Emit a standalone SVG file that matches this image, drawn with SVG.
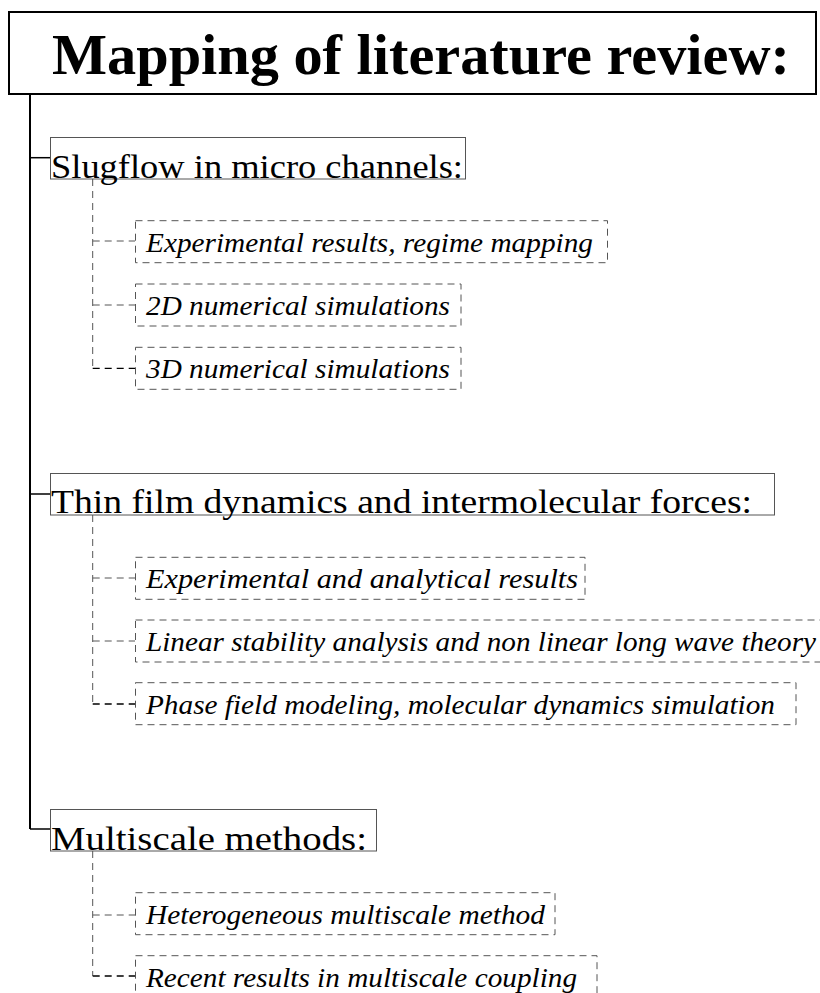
<svg xmlns="http://www.w3.org/2000/svg" width="820" height="993" viewBox="0 0 820 993">
<style>
text{font-family:'Liberation Serif','Times New Roman',Times,serif}
.title{font-weight:bold;font-size:57px;fill:#000}
.head{font-size:34px;fill:#000}
.item{font-style:italic;font-size:27px;fill:#000}
.hbox{fill:none;stroke:#555;stroke-width:1}
.ibox{fill:none;stroke:#555;stroke-width:1;stroke-dasharray:7,5}
.solid{fill:none;stroke:#000;stroke-width:2}
.thin{fill:none;stroke:#000;stroke-width:1.5}
.dash{fill:none;stroke:#555;stroke-width:1;stroke-dasharray:7,5}
.dashk{fill:none;stroke:#000;stroke-width:1.3;stroke-dasharray:7,5}
</style>
<rect x="0" y="0" width="820" height="993" fill="#fff"/>
<g id="connectors">
<path class="solid" d="M30,95 V829"/>
<path class="thin" d="M30,157.7 H50"/>
<path class="thin" d="M30,494 H50"/>
<path class="thin" d="M30,829 H50"/>
<path class="dash" d="M92.7,179 V368.3"/>
<path class="dash" d="M92.7,241 H135"/>
<path class="dash" d="M92.7,305 H135"/>
<path class="dashk" d="M92.7,368.3 H135"/>
<path class="dash" d="M92.7,515 V704"/>
<path class="dash" d="M92.7,578 H135"/>
<path class="dash" d="M92.7,641 H135"/>
<path class="dashk" d="M92.7,704 H135"/>
<path class="dash" d="M92.7,851 V976"/>
<path class="dash" d="M92.7,915 H135"/>
<path class="dashk" d="M92.7,976 H135"/>
</g>
<g id="title">
<rect x="9" y="12" width="807" height="82" fill="none" stroke="#000" stroke-width="2"/>
<text class="title" x="52" y="74" textLength="738" lengthAdjust="spacingAndGlyphs">Mapping of literature review:</text>
</g>
<g id="slugflow">
<rect class="hbox" x="50.5" y="137.5" width="415" height="41.5"/>
<text class="head" x="51" y="177.5" textLength="412" lengthAdjust="spacingAndGlyphs">Slugflow in micro channels:</text>
</g>
<g id="slug-exp">
<rect class="ibox" x="135.5" y="220.7" width="472" height="42"/>
<text class="item" x="146" y="251.7" textLength="447" lengthAdjust="spacingAndGlyphs">Experimental results, regime mapping</text>
</g>
<g id="slug-2d">
<rect class="ibox" x="135.5" y="284" width="325.5" height="42"/>
<text class="item" x="146" y="315" textLength="304" lengthAdjust="spacingAndGlyphs">2D numerical simulations</text>
</g>
<g id="slug-3d">
<rect class="ibox" x="135.5" y="347.3" width="325.5" height="42"/>
<text class="item" x="146" y="378.3" textLength="304" lengthAdjust="spacingAndGlyphs">3D numerical simulations</text>
</g>
<g id="thinfilm">
<rect class="hbox" x="50.5" y="473.5" width="724" height="41.5"/>
<text class="head" x="51" y="513.3" textLength="701" lengthAdjust="spacingAndGlyphs">Thin film dynamics and intermolecular forces:</text>
</g>
<g id="thin-exp">
<rect class="ibox" x="135.5" y="557.3" width="449.5" height="42"/>
<text class="item" x="146" y="588.3" textLength="432" lengthAdjust="spacingAndGlyphs">Experimental and analytical results</text>
</g>
<g id="thin-lin">
<rect class="ibox" x="135.5" y="620" width="700" height="42"/>
<text class="item" x="146" y="651" textLength="670" lengthAdjust="spacingAndGlyphs">Linear stability analysis and non linear long wave theory</text>
</g>
<g id="thin-phase">
<rect class="ibox" x="135.5" y="682.7" width="660.5" height="42"/>
<text class="item" x="146" y="713.7" textLength="629" lengthAdjust="spacingAndGlyphs">Phase field modeling, molecular dynamics simulation</text>
</g>
<g id="multiscale">
<rect class="hbox" x="50.5" y="809.5" width="326" height="41.5"/>
<text class="head" x="51" y="849.5" textLength="316" lengthAdjust="spacingAndGlyphs">Multiscale methods:</text>
</g>
<g id="multi-het">
<rect class="ibox" x="135.5" y="892.7" width="419.5" height="42"/>
<text class="item" x="146" y="923.7" textLength="399" lengthAdjust="spacingAndGlyphs">Heterogeneous multiscale method</text>
</g>
<g id="multi-rec">
<rect class="ibox" x="135.5" y="955.7" width="461.5" height="42"/>
<text class="item" x="146" y="986.7" textLength="431" lengthAdjust="spacingAndGlyphs">Recent results in multiscale coupling</text>
</g>
</svg>
